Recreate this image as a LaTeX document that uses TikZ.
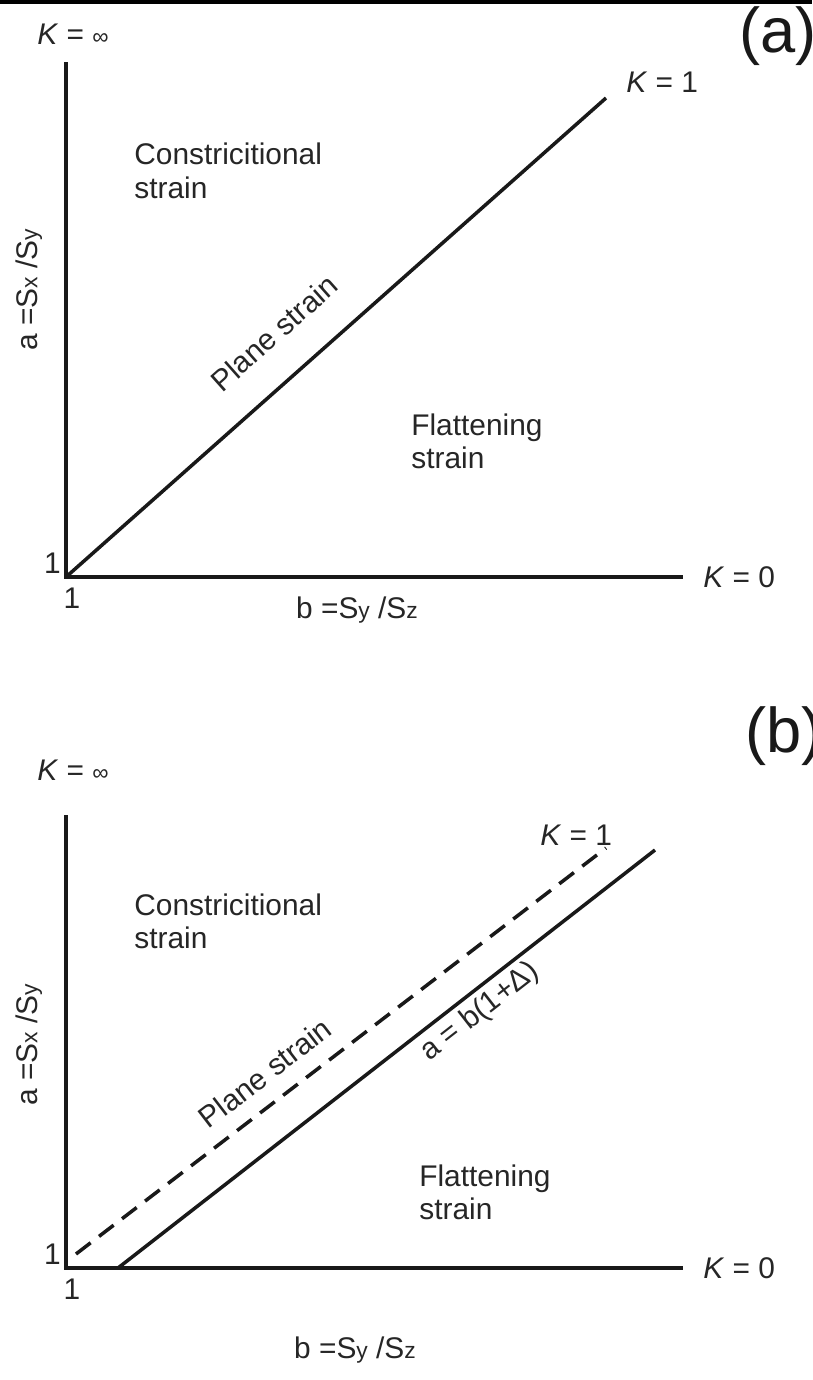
\documentclass[tikz,border=0pt]{standalone}
\usepackage{fontspec}
\setmainfont{Liberation Sans}
\usepackage{tikz}
\usetikzlibrary{positioning,calc}
\tikzset{
  axis/.style={line width=2.6pt, black!90, line join=miter},
  kline/.style={line width=2pt, black!90},
  kdash/.style={kline, dash pattern=on 10.5pt off 6pt},
  txt/.style={font=\fontsize{17}{19}\selectfont, inner sep=0pt, text=black!85},
  region/.style={txt, align=left, anchor=north west},
  klbl/.style={txt},
  panel/.style={font=\fontsize{36}{40}\selectfont, inner sep=0pt, text=black!90}
}
\newcommand{\sub}[1]{{\fontsize{13}{15}\selectfont #1}}
\newcommand{\kinf}{\textit{K} = \sub{∞}}

\begin{document}
\begin{tikzpicture}[x=0.02cm, y=-0.02cm]
\useasboundingbox (0,0) rectangle (812,1380);
\fill[black] (0,0) rectangle (812,4);

% (a)
\coordinate (Ao) at (66,577);
\coordinate (Ay) at (66,62);
\coordinate (Ax) at (683,577);
\coordinate (Ad) at (606,98);
\draw[axis] (Ay) -- (Ao) -- (Ax);
\draw[kline] (Ao) -- (Ad);
\node[panel] (pa) at (778,36) {(a)};
\node[klbl, anchor=west] (ainf) at (37,34) {\kinf};
\node[klbl, anchor=west] (aone) at (626,82) {\textit{K} = 1};
\node[klbl, right=0.4cm of Ax] (azero) {\textit{K} = 0};
\node[txt, anchor=east] (ay1) at (61,563) {1};
\node[txt] (ax1) at (72,598) {1};
\node[txt] (ab) at (357,610) {b =S\sub{y} /S\sub{z}};
\node[txt, rotate=90] (aa) at (29,290) {a =S\sub{x} /S\sub{y}};
\node[region] (acon) at (134,143) {Constricitional\\strain};
\node[region] (aflat) at (411,413) {Flattening\\strain};
\node[txt, rotate=41.6] (aplane) at (274,333) {Plane strain};

% (b)
\coordinate (Bo) at (66,1268);
\coordinate (By) at (66,815);
\coordinate (Bx) at (683,1268);
\coordinate (Bp) at (76,1254);
\coordinate (Bq) at (606,848);
\coordinate (Br) at (118,1268);
\coordinate (Bs) at (655,850);
\draw[axis] (By) -- (Bo) -- (Bx);
\draw[kdash] (Bp) -- (Bq);
\draw[kline] (Br) -- (Bs);
\node[panel] (pb) at (784,736) {(b)};
\node[klbl, anchor=west] (binf) at (37,770) {\kinf};
\node[klbl, anchor=west] (bone) at (540,835) {\textit{K} = 1};
\node[klbl, right=0.4cm of Bx] (bzero) {\textit{K} = 0};
\node[txt, anchor=east] (by1) at (61,1254) {1};
\node[txt] (bx1) at (72,1289) {1};
\node[txt] (bb) at (355,1350) {b =S\sub{y} /S\sub{z}};
\node[txt, rotate=90] (ba) at (29,1045) {a =S\sub{x} /S\sub{y}};
\node[region] (bcon) at (134,893) {Constricitional\\strain};
\node[region] (bflat) at (419,1164) {Flattening\\strain};
\node[txt, rotate=37.5] (bplane) at (265,1073) {Plane strain};
\node[txt, rotate=37.9] (bdelta) at (480,1012) {a = b(1+Δ)};
\end{tikzpicture}
\end{document}
